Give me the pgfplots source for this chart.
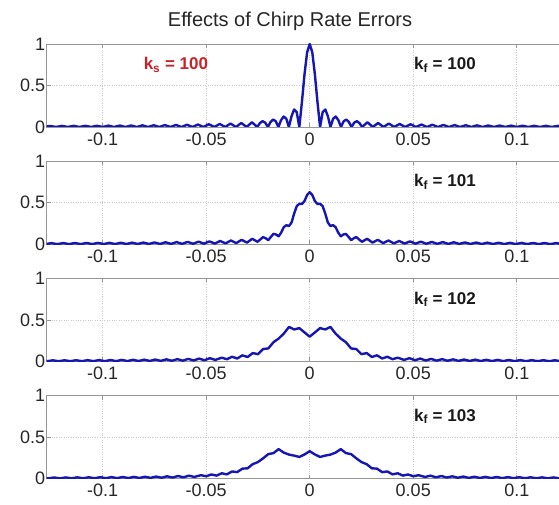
\documentclass[border=0pt]{standalone}
\usepackage{fontspec}
\setmainfont{Liberation Sans}
\usepackage{pgfplots}
\pgfplotsset{compat=1.18}

\definecolor{curve}{RGB}{22,22,178}
\definecolor{kred}{RGB}{200,35,40}
\definecolor{boxgray}{RGB}{150,150,150}
\definecolor{gridgray}{RGB}{200,200,200}

\pgfplotsset{
  panel/.style={
    anchor=south west,
    scale only axis, width=526pt, height=83pt,
    xmin=-0.127, xmax=0.127, ymin=0, ymax=1,
    xtick={-0.1,-0.05,0,0.05,0.1},
    xticklabels={-0.1,-0.05,0,0.05,0.1},
    ytick={0,0.5,1}, yticklabels={0,0.5,1},
    grid=major, major grid style={dotted, gridgray, line width=0.7pt},
    axis line style={boxgray, line width=0.8pt},
    tick style={boxgray, line width=0.6pt},
    tick align=inside, major tick length=4pt,
    ticklabel style={font=\fontsize{18}{18}\selectfont, text=black!85},
    xticklabel style={yshift=-2pt},
    yticklabel style={xshift=2pt},
  },
  pulse/.style={curve, line width=2.4pt, line join=round, no markers},
}

\newcommand{\klabel}[1]{\textbf{k\textsubscript{#1}}}

\begin{document}
\begin{tikzpicture}[x=1pt,y=1pt]
\path[use as bounding box] (0,0) rectangle (559,505);
\clip (0,0) rectangle (559,505);

\node[anchor=base, font=\fontsize{20}{20}\selectfont, text=black!85] at (290,478) {Effects of Chirp Rate Errors};

% k_f = 100 (matched filter)
\begin{axis}[panel, at={(46.7pt,378pt)}]
\addplot[pulse] table[row sep=\\] {
x y\\
-0.12822 0\\ -0.12536 0.0127\\ -0.12250 0\\ -0.11966 0.0133\\ -0.11682 0\\ -0.11400 0.0140\\
-0.11118 0\\ -0.10837 0.0147\\ -0.10557 0\\ -0.10278 0.0155\\ -0.10000 0\\ -0.09723 0.0164\\
-0.09446 0\\ -0.09171 0.0174\\ -0.08896 0\\ -0.08622 0.0185\\ -0.08348 0\\ -0.08076 0.0197\\
-0.07805 0\\ -0.07534 0.0211\\ -0.07264 0\\ -0.06995 0.0228\\ -0.06726 0\\ -0.06459 0.0246\\
-0.06192 0\\ -0.05926 0.0269\\ -0.05660 0\\ -0.05396 0.0295\\ -0.05132 0\\ -0.04869 0.0327\\
-0.04606 0\\ -0.04344 0.0366\\ -0.04080 0\\ -0.03821 0.0417\\ -0.03562 0\\ -0.03304 0.0482\\
-0.03046 0\\ -0.02789 0.0571\\ -0.02532 0\\ -0.02404 0.0468\\ -0.02276 0.0699\\ -0.02148 0.0524\\
-0.02020 0\\ -0.01893 0.0595\\ -0.01766 0.0901\\ -0.01638 0.0687\\ -0.01511 0\\ -0.01385 0.0813\\
-0.01258 0.1265\\ -0.01131 0.0995\\ -0.01005 0\\ -0.00879 0.1281\\ -0.00753 0.2114\\ -0.00627 0.1795\\
-0.00501 0\\ -0.00376 0.2995\\ -0.00250 0.6358\\ -0.00125 0.8998\\
0 1\\
0.00125 0.8998\\ 0.00250 0.6358\\ 0.00376 0.2995\\ 0.00501 0\\
0.00627 0.1795\\ 0.00753 0.2114\\ 0.00879 0.1281\\ 0.01005 0\\ 0.01131 0.0995\\ 0.01258 0.1265\\
0.01385 0.0813\\ 0.01511 0\\ 0.01638 0.0687\\ 0.01766 0.0901\\ 0.01893 0.0595\\ 0.02020 0\\
0.02148 0.0524\\ 0.02276 0.0699\\ 0.02404 0.0468\\ 0.02532 0\\ 0.02789 0.0571\\ 0.03046 0\\
0.03304 0.0482\\ 0.03562 0\\ 0.03821 0.0417\\ 0.04080 0\\ 0.04344 0.0366\\ 0.04606 0\\
0.04869 0.0327\\ 0.05132 0\\ 0.05396 0.0295\\ 0.05660 0\\ 0.05926 0.0269\\ 0.06192 0\\
0.06459 0.0246\\ 0.06726 0\\ 0.06995 0.0228\\ 0.07264 0\\ 0.07534 0.0211\\ 0.07805 0\\
0.08076 0.0197\\ 0.08348 0\\ 0.08622 0.0185\\ 0.08896 0\\ 0.09171 0.0174\\ 0.09446 0\\
0.09723 0.0164\\ 0.10000 0\\ 0.10278 0.0155\\ 0.10557 0\\ 0.10837 0.0147\\ 0.11118 0\\
0.11400 0.0140\\ 0.11682 0\\ 0.11966 0.0133\\ 0.12250 0\\ 0.12536 0.0127\\ 0.12822 0\\
};
\node[anchor=base, text=kred, font=\fontsize{17}{17}\selectfont] at (axis cs:-0.0646,0.69) {\klabel{s} \textbf{= 100}};
\node[anchor=base, text=black!90, font=\fontsize{17}{17}\selectfont] at (axis cs:0.0653,0.69) {\klabel{f} \textbf{= 100}};
\end{axis}

% k_f = 101
\begin{axis}[panel, at={(46.7pt,260.8pt)}]
\addplot[pulse] table[row sep=\\] {
x y\\
-0.12754 0.0009\\ -0.12469 0.0128\\ -0.12185 0.0010\\ -0.11902 0.0134\\ -0.11620 0.0011\\ -0.11339 0.0141\\
-0.11059 0.0012\\ -0.10780 0.0148\\ -0.10502 0.0014\\ -0.10224 0.0156\\ -0.09948 0.0015\\ -0.09672 0.0165\\
-0.09397 0.0017\\ -0.09123 0.0175\\ -0.08849 0.0019\\ -0.08577 0.0187\\ -0.08305 0.0022\\ -0.08034 0.0200\\
-0.07764 0.0026\\ -0.07495 0.0215\\ -0.07226 0.0030\\ -0.06959 0.0232\\ -0.06692 0.0035\\ -0.06425 0.0252\\
-0.06160 0.0041\\ -0.05895 0.0276\\ -0.05631 0.0050\\ -0.05368 0.0305\\ -0.05105 0.0061\\ -0.04844 0.0341\\
-0.04583 0.0077\\ -0.04322 0.0386\\ -0.04063 0.0099\\ -0.03804 0.0446\\ -0.03546 0.0133\\ -0.03288 0.0528\\
-0.03031 0.0189\\ -0.02775 0.0652\\ -0.02519 0.0289\\
-0.02250 0.086\\ -0.02125 0.071\\ -0.02000 0.049\\ -0.01875 0.088\\ -0.01750 0.124\\ -0.01625 0.117\\
-0.01500 0.095\\ -0.01375 0.141\\ -0.01250 0.206\\ -0.01125 0.229\\ -0.01000 0.219\\ -0.00875 0.262\\
-0.00750 0.370\\ -0.00625 0.459\\ -0.00500 0.487\\ -0.00375 0.484\\ -0.00250 0.520\\ -0.00125 0.593\\
0 0.627\\
0.00125 0.593\\ 0.00250 0.520\\ 0.00375 0.484\\ 0.00500 0.487\\ 0.00625 0.459\\ 0.00750 0.370\\
0.00875 0.262\\ 0.01000 0.219\\ 0.01125 0.229\\ 0.01250 0.206\\ 0.01375 0.141\\ 0.01500 0.095\\
0.01625 0.117\\ 0.01750 0.124\\ 0.01875 0.088\\ 0.02000 0.049\\ 0.02125 0.071\\ 0.02250 0.086\\
0.02519 0.0289\\ 0.02775 0.0652\\ 0.03031 0.0189\\ 0.03288 0.0528\\ 0.03546 0.0133\\ 0.03804 0.0446\\
0.04063 0.0099\\ 0.04322 0.0386\\ 0.04583 0.0077\\ 0.04844 0.0341\\ 0.05105 0.0061\\ 0.05368 0.0305\\
0.05631 0.0050\\ 0.05895 0.0276\\ 0.06160 0.0041\\ 0.06425 0.0252\\ 0.06692 0.0035\\ 0.06959 0.0232\\
0.07226 0.0030\\ 0.07495 0.0215\\ 0.07764 0.0026\\ 0.08034 0.0200\\ 0.08305 0.0022\\ 0.08577 0.0187\\
0.08849 0.0019\\ 0.09123 0.0175\\ 0.09397 0.0017\\ 0.09672 0.0165\\ 0.09948 0.0015\\ 0.10224 0.0156\\
0.10502 0.0014\\ 0.10780 0.0148\\ 0.11059 0.0012\\ 0.11339 0.0141\\ 0.11620 0.0011\\ 0.11902 0.0134\\
0.12185 0.0010\\ 0.12469 0.0128\\ 0.12754 0.0009\\
};
\node[anchor=base, text=black!90, font=\fontsize{17}{17}\selectfont] at (axis cs:0.0653,0.69) {\klabel{f} \textbf{= 101}};
\end{axis}

% k_f = 102
\begin{axis}[panel, at={(46.7pt,143.6pt)}]
\addplot[pulse] table[row sep=\\] {
x y\\
-0.12970 0.0125\\ -0.12686 0.0019\\ -0.12403 0.0130\\ -0.12121 0.0020\\ -0.11840 0.0136\\ -0.11559 0.0023\\
-0.11280 0.0144\\ -0.11001 0.0025\\ -0.10724 0.0152\\ -0.10447 0.0028\\ -0.10171 0.0160\\ -0.09896 0.0031\\
-0.09621 0.0170\\ -0.09348 0.0035\\ -0.09075 0.0182\\ -0.08803 0.0040\\ -0.08532 0.0194\\ -0.08262 0.0046\\
-0.07993 0.0209\\ -0.07724 0.0054\\ -0.07456 0.0226\\ -0.07189 0.0063\\ -0.06923 0.0246\\ -0.06657 0.0074\\
-0.06392 0.0271\\ -0.06128 0.0089\\ -0.05865 0.0301\\ -0.05603 0.0110\\ -0.05341 0.0339\\ -0.05080 0.0138\\
-0.04819 0.0390\\ -0.04559 0.0179\\
-0.04250 0.045\\ -0.04000 0.026\\ -0.03750 0.056\\ -0.03500 0.035\\ -0.03250 0.073\\ -0.03000 0.053\\
-0.02750 0.100\\ -0.02500 0.087\\ -0.02250 0.149\\ -0.02000 0.156\\ -0.01750 0.231\\ -0.01500 0.275\\
-0.01250 0.335\\ -0.01000 0.415\\ -0.00750 0.385\\ -0.00500 0.401\\ -0.00250 0.349\\
0 0.298\\
0.00250 0.349\\ 0.00500 0.401\\ 0.00750 0.385\\ 0.01000 0.415\\ 0.01250 0.335\\ 0.01500 0.275\\
0.01750 0.231\\ 0.02000 0.156\\ 0.02250 0.149\\ 0.02500 0.087\\ 0.02750 0.100\\ 0.03000 0.053\\
0.03250 0.073\\ 0.03500 0.035\\ 0.03750 0.056\\ 0.04000 0.026\\ 0.04250 0.045\\
0.04559 0.0179\\ 0.04819 0.0390\\ 0.05080 0.0138\\ 0.05341 0.0339\\ 0.05603 0.0110\\ 0.05865 0.0301\\
0.06128 0.0089\\ 0.06392 0.0271\\ 0.06657 0.0074\\ 0.06923 0.0246\\ 0.07189 0.0063\\ 0.07456 0.0226\\
0.07724 0.0054\\ 0.07993 0.0209\\ 0.08262 0.0046\\ 0.08532 0.0194\\ 0.08803 0.0040\\ 0.09075 0.0182\\
0.09348 0.0035\\ 0.09621 0.0170\\ 0.09896 0.0031\\ 0.10171 0.0160\\ 0.10447 0.0028\\ 0.10724 0.0152\\
0.11001 0.0025\\ 0.11280 0.0144\\ 0.11559 0.0023\\ 0.11840 0.0136\\ 0.12121 0.0020\\ 0.12403 0.0130\\
0.12686 0.0019\\ 0.12970 0.0125\\
};
\node[anchor=base, text=black!90, font=\fontsize{17}{17}\selectfont] at (axis cs:0.0653,0.69) {\klabel{f} \textbf{= 102}};
\end{axis}

% k_f = 103
\begin{axis}[panel, at={(46.7pt,26.4pt)}]
\addplot[pulse] table[row sep=\\] {
x y\\
-0.12901 0.0127\\ -0.12619 0.0029\\ -0.12337 0.0134\\ -0.12057 0.0032\\ -0.11777 0.0141\\ -0.11499 0.0035\\
-0.11221 0.0149\\ -0.10944 0.0039\\ -0.10668 0.0158\\ -0.10392 0.0044\\ -0.10118 0.0168\\ -0.09844 0.0050\\
-0.09571 0.0179\\ -0.09299 0.0056\\ -0.09028 0.0193\\ -0.08758 0.0065\\ -0.08488 0.0208\\ -0.08220 0.0075\\
-0.07952 0.0226\\ -0.07684 0.0087\\ -0.07418 0.0248\\ -0.07152 0.0104\\ -0.06887 0.0275\\ -0.06623 0.0126\\
-0.06360 0.0309\\ -0.06097 0.0155\\ -0.05835 0.0354\\ -0.05574 0.0198\\
-0.05250 0.041\\ -0.05000 0.028\\ -0.04750 0.050\\ -0.04500 0.036\\ -0.04250 0.064\\ -0.04000 0.051\\
-0.03750 0.086\\ -0.03500 0.078\\ -0.03250 0.120\\ -0.03000 0.124\\ -0.02750 0.174\\ -0.02500 0.199\\
-0.02250 0.244\\ -0.02000 0.295\\ -0.01750 0.307\\ -0.01500 0.355\\ -0.01250 0.313\\ -0.01000 0.289\\
-0.00750 0.277\\ -0.00500 0.261\\ -0.00250 0.291\\
0 0.330\\
0.00250 0.291\\ 0.00500 0.261\\ 0.00750 0.277\\ 0.01000 0.289\\ 0.01250 0.313\\ 0.01500 0.355\\
0.01750 0.307\\ 0.02000 0.295\\ 0.02250 0.244\\ 0.02500 0.199\\ 0.02750 0.174\\ 0.03000 0.124\\
0.03250 0.120\\ 0.03500 0.078\\ 0.03750 0.086\\ 0.04000 0.051\\ 0.04250 0.064\\ 0.04500 0.036\\
0.04750 0.050\\ 0.05000 0.028\\ 0.05250 0.041\\
0.05574 0.0198\\ 0.05835 0.0354\\ 0.06097 0.0155\\ 0.06360 0.0309\\ 0.06623 0.0126\\ 0.06887 0.0275\\
0.07152 0.0104\\ 0.07418 0.0248\\ 0.07684 0.0087\\ 0.07952 0.0226\\ 0.08220 0.0075\\ 0.08488 0.0208\\
0.08758 0.0065\\ 0.09028 0.0193\\ 0.09299 0.0056\\ 0.09571 0.0179\\ 0.09844 0.0050\\ 0.10118 0.0168\\
0.10392 0.0044\\ 0.10668 0.0158\\ 0.10944 0.0039\\ 0.11221 0.0149\\ 0.11499 0.0035\\ 0.11777 0.0141\\
0.12057 0.0032\\ 0.12337 0.0134\\ 0.12619 0.0029\\ 0.12901 0.0127\\
};
\node[anchor=base, text=black!90, font=\fontsize{17}{17}\selectfont] at (axis cs:0.0653,0.69) {\klabel{f} \textbf{= 103}};
\end{axis}
\end{tikzpicture}
\end{document}
